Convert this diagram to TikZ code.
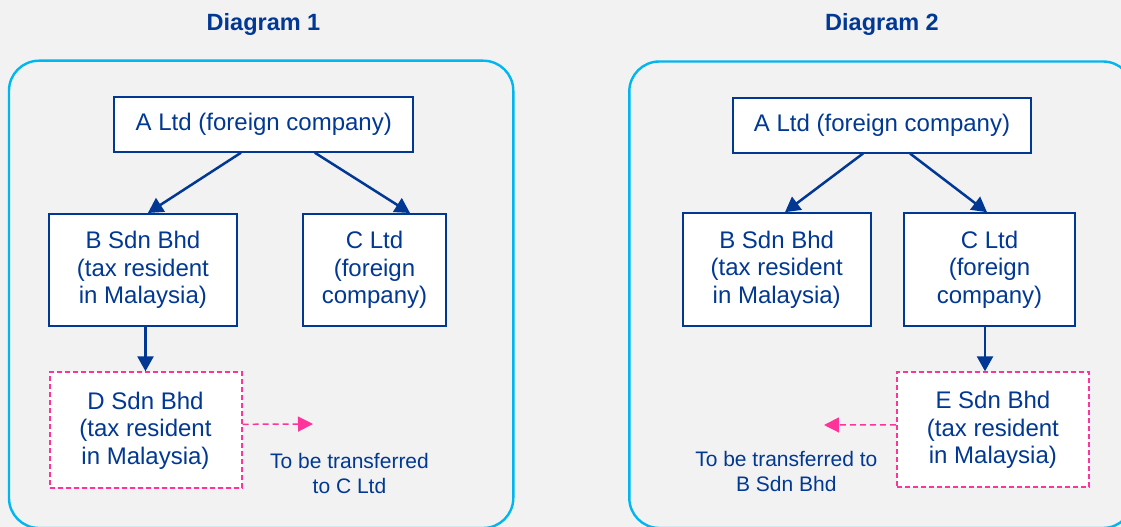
\documentclass[tikz,border=0pt]{standalone}
\usepackage{fontspec}
\setmainfont{Liberation Sans}
\usetikzlibrary{arrows.meta}
\definecolor{navy}{RGB}{0,56,147}
\definecolor{skyline}{RGB}{0,182,240}
\definecolor{hotpink}{RGB}{255,51,153}
\definecolor{bggray}{RGB}{242,242,242}
\tikzset{
  panel/.style={draw=skyline, line width=2.4pt, rounded corners=30pt},
  entity/.style={draw=navy, line width=2pt, fill=white, text=navy, inner sep=0pt, align=center,
    font=\fontsize{24}{27.5}\selectfont},
  pending/.style={entity, draw=hotpink, dash pattern=on 5pt off 3pt},
  title/.style={text=navy, font=\fontsize{23.5}{27}\selectfont\bfseries, anchor=base, inner sep=0pt},
  note/.style={text=navy, font=\fontsize{21}{25}\selectfont, align=center, inner sep=0pt},
  owns/.style={draw=navy, line width=2.5pt, -{Triangle[length=15pt,width=16pt]}},
  moves/.style={draw=hotpink, line width=1.5pt, dash pattern=on 6pt off 4pt, -{Triangle[length=15pt,width=15pt]}}
}
\begin{document}
\begin{tikzpicture}[x=1pt,y=-1pt]
\useasboundingbox (0,0) rectangle (1121,527);
\fill[bggray] (0,0) rectangle (1121,527);

% titles
\node[title] (t1) at (263.5,30.7) {Diagram 1};
\node[title] (t2) at (882,30.7) {Diagram 2};

% panels
\draw[panel] (9,60.7) rectangle (513.3,528);
\draw[panel] (629.3,61.5) rectangle (1133,528);

% Diagram 1
\node[entity, minimum width=299pt, minimum height=55pt] (A1) at (263.8,124.2) {A Ltd (foreign company)};
\node[entity, minimum width=188pt, minimum height=112pt] (B1) at (142.9,270) {B Sdn Bhd\\(tax resident\\in Malaysia)};
\node[entity, minimum width=143pt, minimum height=112pt] (C1) at (374.5,270) {C Ltd\\(foreign\\company)};
\node[pending, minimum width=192pt, minimum height=116pt] (D1) at (145.5,430.3) {D Sdn Bhd\\(tax resident\\in Malaysia)};
\coordinate (d1end) at (313,424);
\node[note] (n1) at (349.5,473) {To be transferred\\to C Ltd};

\draw[owns] ([xshift=-22.8pt]A1.south) -- ([xshift=5pt]B1.north);
\draw[owns] ([xshift=51pt]A1.south) -- ([xshift=35.5pt]C1.north);
\draw[owns] (D1.north |- B1.south) -- (D1.north);
\draw[moves] ([yshift=6pt]D1.east) -- (d1end);

% Diagram 2
\node[entity, minimum width=298pt, minimum height=55pt] (A2) at (882,125) {A Ltd (foreign company)};
\node[entity, minimum width=188pt, minimum height=113pt] (B2) at (776.7,269.7) {B Sdn Bhd\\(tax resident\\in Malaysia)};
\node[entity, minimum width=171pt, minimum height=113pt] (C2) at (989.5,269.7) {C Ltd\\(foreign\\company)};
\node[pending, minimum width=192pt, minimum height=115pt] (E2) at (992.9,429.8) {E Sdn Bhd\\(tax resident\\in Malaysia)};
\coordinate (e2end) at (824,425);
\node[note] (n2) at (786.3,471.5) {To be transferred to\\B Sdn Bhd};

\draw[owns] ([xshift=-19pt]A2.south) -- ([xshift=8.3pt]B2.north);
\draw[owns] ([xshift=28pt]A2.south) -- ([xshift=-2.5pt]C2.north);
\draw[owns] ([xshift=-4.5pt]C2.south) -- ([xshift=-7.9pt]E2.north);
\draw[moves] ([yshift=5pt]E2.west) -- (e2end);
\end{tikzpicture}
\end{document}
